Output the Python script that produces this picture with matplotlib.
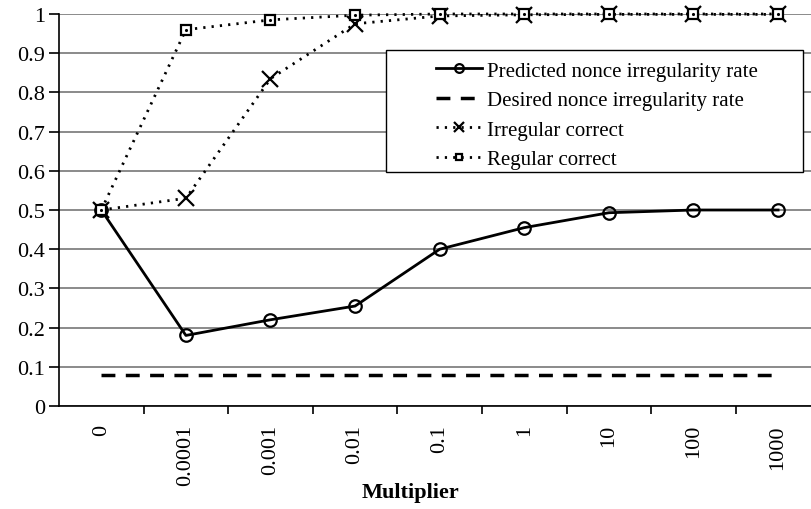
import matplotlib.pyplot as plt
import numpy as np
from matplotlib.patches import Rectangle

plt.rcParams['font.family'] = ['Liberation Serif', 'DejaVu Serif']

multipliers = ['0', '0.0001', '0.001', '0.01', '0.1', '1', '10', '100', '1000']
predicted = [0.5, 0.18, 0.22, 0.255, 0.40, 0.455, 0.493, 0.50, 0.50]
desired = [0.08, 0.08, 0.08, 0.08, 0.08, 0.08, 0.08, 0.08, 0.08]
irregular = [0.5, 0.53, 0.835, 0.975, 0.995, 0.998, 0.999, 0.999, 0.999]
regular = [0.5, 0.96, 0.985, 0.997, 1.0, 1.0, 1.0, 1.0, 1.0]

x = np.arange(len(multipliers))

fig = plt.figure(figsize=(8.12, 5.10), dpi=100)
ax = fig.add_axes([59 / 812, 103 / 510, 753 / 812, 392 / 510])

ax.plot(x, predicted, color='black', lw=2, marker='o', ms=9, mfc='none',
        mew=1.6, label='Predicted nonce irregularity rate', clip_on=False, zorder=4)
ax.plot(x, desired, color='black', lw=2.5, ls=(0, (4, 3)),
        label='Desired nonce irregularity rate', zorder=3)
ax.plot(x, irregular, color='black', lw=2, ls=(0, (0.8, 2.2)), marker='x', ms=11,
        mew=1.6, label='Irregular correct', clip_on=False, zorder=4)
ax.plot(x, regular, color='black', lw=2, ls=(0, (0.8, 2.2)), marker='s', ms=7,
        mfc='white', mew=1.6, label='Regular correct', clip_on=False, zorder=5)
ax.plot(x, regular, ls='none', marker='.', ms=2.5, color='black', clip_on=False, zorder=6)

ax.set_ylim(0, 1)
ax.set_xlim(-0.5, -0.5 + 753 / 84.6)
ax.set_yticks(np.arange(0, 1.01, 0.1))
ax.set_yticklabels(['0', '0.1', '0.2', '0.3', '0.4', '0.5', '0.6', '0.7', '0.8', '0.9', '1'])
ax.yaxis.grid(True, color='#777777', lw=1.2)
ax.set_axisbelow(True)

ax.set_xticks(x)
ax.set_xticklabels(multipliers, rotation=90)
ax.set_xticks(np.arange(0.5, 8.5, 1), minor=True)
ax.tick_params(axis='x', which='major', length=0, pad=13, labelsize=16)
ax.tick_params(axis='x', which='minor', length=6, width=1.2)
ax.tick_params(axis='y', length=7, width=1.2, labelsize=16, pad=3)

for s in ['top', 'right']:
    ax.spines[s].set_visible(False)
ax.spines['left'].set_linewidth(1.2)
ax.spines['bottom'].set_linewidth(1.2)

fig.text(410 / 812, 1 - 493 / 510, 'Multiplier', fontweight='bold', fontsize=16,
         ha='center', va='center')

# legend frame drawn separately so the entries can sit inset like the original
box = Rectangle((386 / 812, 1 - 173 / 510), (803 - 386) / 812, (173 - 51) / 510,
                transform=fig.transFigure, facecolor='white', edgecolor='black',
                lw=1.0, zorder=7, clip_on=False)
ax.add_patch(box)
leg = ax.legend(loc='upper left', bbox_to_anchor=((436 - 59) / 753, (407 - 62) / 392),
                fontsize=15, frameon=False, handlelength=2.2, borderpad=0,
                labelspacing=0.48, handletextpad=0.25, borderaxespad=0,
                markerscale=0.7)
leg.set_zorder(8)

fig.savefig('out.png', dpi=100)
